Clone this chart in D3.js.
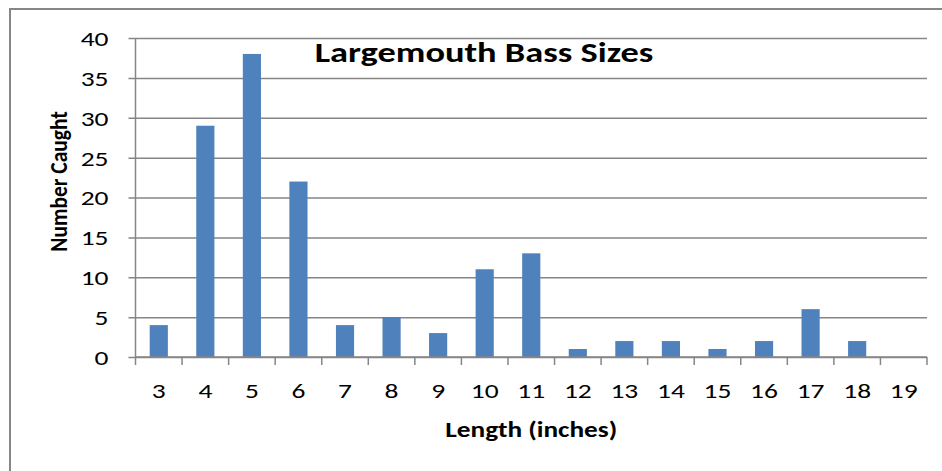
<!DOCTYPE html>
<html>
<head>
<meta charset="utf-8">
<script src="https://cdn.jsdelivr.net/npm/d3@7"></script>
<style>
  body { margin: 0; background: #fff; }
  svg { display: block; font-family: Carlito, Calibri, Lato, sans-serif; }
</style>
</head>
<body>
<div id="chart"></div>
<script>
// lengths in inches and how many fish were caught at each length
const lengths = [3, 4, 5, 6, 7, 8, 9, 10, 11, 12, 13, 14, 15, 16, 17, 18, 19];
const counts = [4, 29, 38, 22, 4, 5, 3, 11, 13, 1, 2, 2, 1, 2, 6, 2, 0];
const yTicks = [0, 5, 10, 15, 20, 25, 30, 35, 40];

const width = 942, height = 471;
const margin = { top: 38, right: 15, bottom: 114, left: 135.5 };
const GRID = '#868686';
const BAR = '#4F81BD';
// the source picture is stretched sideways, so the text is too
const SX = 1.34;

const svg = d3.select('#chart')
  .append('svg')
  .attr('width', width)
  .attr('height', height);

// chart frame, runs off the right and bottom edges
svg.append('rect')
  .attr('x', 10)
  .attr('y', 9)
  .attr('width', width + 20)
  .attr('height', height + 20)
  .attr('fill', 'none')
  .attr('stroke', GRID)
  .attr('stroke-width', 2);

const x = d3.scaleBand()
  .domain(lengths)
  .range([margin.left, width - margin.right])
  .paddingInner(0.61)
  .paddingOuter(0.305);

const xOuter = d3.scaleBand()
  .domain(lengths)
  .range([margin.left, width - margin.right]);

const y = d3.scaleLinear()
  .domain([0, 40])
  .range([height - margin.bottom, margin.top]);

// horizontal gridlines with the tick stubs to the left
svg.append('g')
  .attr('transform', `translate(${margin.left},0)`)
  .call(d3.axisLeft(y).tickValues(yTicks).tickSize(-(width - margin.right - margin.left)).tickSizeOuter(0))
  .call(g => g.select('.domain').remove())
  .call(g => g.selectAll('.tick line')
    .attr('x1', -7)
    .attr('stroke', GRID)
    .attr('stroke-width', 1.5))
  .call(g => g.selectAll('.tick text')
    .attr('x', null)
    .attr('dy', '0.36em')
    .attr('transform', `translate(-27,0) scale(${SX},1)`)
    .attr('font-size', 20.5)
    .attr('font-family', 'Carlito, Calibri, Lato, sans-serif')
    .attr('fill', '#000'));

// y axis line
svg.append('line')
  .attr('x1', margin.left).attr('x2', margin.left)
  .attr('y1', y(40)).attr('y2', y(0))
  .attr('stroke', GRID)
  .attr('stroke-width', 1.5);

// bars
svg.append('g')
  .selectAll('rect')
  .data(lengths.map((l, i) => ({ length: l, count: counts[i] })))
  .enter()
  .append('rect')
  .attr('x', d => x(d.length))
  .attr('y', d => y(d.count))
  .attr('width', x.bandwidth())
  .attr('height', d => y(0) - y(d.count))
  .attr('fill', BAR);

// x axis: ticks sit on category boundaries
const xAxis = svg.append('g')
  .attr('transform', `translate(0,${y(0)})`);

xAxis.append('line')
  .attr('x1', margin.left).attr('x2', width - margin.right)
  .attr('stroke', GRID)
  .attr('stroke-width', 1.5);

xAxis.selectAll('.tick-mark')
  .data(lengths.concat(['end']))
  .enter()
  .append('line')
  .attr('x1', (d, i) => margin.left + i * xOuter.step())
  .attr('x2', (d, i) => margin.left + i * xOuter.step())
  .attr('y1', 0)
  .attr('y2', 8)
  .attr('stroke', GRID)
  .attr('stroke-width', 1.5);

xAxis.selectAll('.tick-label')
  .data(lengths)
  .enter()
  .append('text')
  .attr('transform', d => `translate(${xOuter(d) + xOuter.bandwidth() / 2},41) scale(${SX},1)`)
  .attr('text-anchor', 'middle')
  .attr('font-size', 20.5)
  .text(d => d);

// titles
svg.append('text')
  .text('Largemouth Bass Sizes')
  .attr('transform', `translate(484,62) scale(1.3,1)`)
  .attr('text-anchor', 'middle')
  .attr('font-size', 28)
  .attr('font-weight', 'bold');

svg.append('text')
  .text('Length (inches)')
  .attr('transform', `translate(${(margin.left + width - margin.right) / 2},437) scale(1.27,1)`)
  .attr('text-anchor', 'middle')
  .attr('font-size', 21.5)
  .attr('font-weight', 'bold');

svg.append('text')
  .text('Number Caught')
  .attr('transform', `translate(67,${(y(0) + y(40)) / 2 - 16}) scale(1.12,1) rotate(-90)`)
  .attr('text-anchor', 'middle')
  .attr('font-size', 21.5)
  .attr('font-weight', 'bold');
</script>
</body>
</html>
